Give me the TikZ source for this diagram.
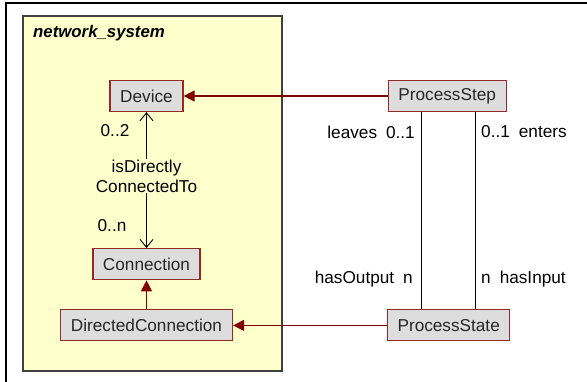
\documentclass[tikz,border=0pt]{standalone}
\usepackage{fontspec}
\setmainfont{Liberation Sans}
\usepackage{tikz}
\usetikzlibrary{arrows.meta, positioning}
\definecolor{umlpkg}{RGB}{255,255,204}
\definecolor{umlbox}{RGB}{221,221,221}
\definecolor{umlred}{RGB}{150,40,40}
\definecolor{umldark}{RGB}{128,0,0}
\definecolor{umlgray}{RGB}{64,64,64}

\begin{document}
\begin{tikzpicture}[
  x=1pt, y=-1pt,
  font=\fontsize{17.2}{20}\selectfont,
  cls/.style={rectangle, draw=umlred, fill=umlbox, line width=1.2pt, minimum height=31pt, inner sep=0pt, text=black!85},
  inherit/.style={-{Triangle[length=11pt,width=11pt]}, draw=umldark, fill=umldark, line width=1.1pt},
  assoc/.style={{Straight Barb[length=8pt,width=13pt]}-{Straight Barb[length=8pt,width=13pt]}, line width=0.9pt},
  plain/.style={line width=0.9pt},
  mult/.style={inner sep=0pt}
]
\useasboundingbox (0,0) rectangle (587,382);
\draw[line width=1.5pt] (6,382) -- (6,3) -- (587,3);

% package
\draw[fill=umlpkg, draw=umlgray, line width=1.5pt] (23,16) rectangle (282,371);
\node[anchor=west, inner sep=0pt, font=\fontsize{16.8}{19}\selectfont\bfseries\itshape] (pkgname) at (33,33) {network\_system};

\node[cls, minimum width=73pt] (device) at (146.5,96) {Device};
\node[cls, minimum width=107pt, below=136pt of device] (conn) {Connection};
\node[cls, minimum width=172pt, below=29pt of conn] (dirconn) {DirectedConnection};

\node[cls, minimum width=118pt, right=204pt of device] (step) {ProcessStep};
\node[cls, minimum width=122pt, right=154pt of dirconn] (state) {ProcessState};

% associations
\draw[assoc] (device.south) -- (conn.north)
  node[pos=0.5, fill=umlpkg, align=center, inner sep=1pt, yshift=4pt] {isDirectly\\ConnectedTo};
\node[mult] at (115,131) {0..2};
\node[mult] at (112,226) {0..n};

\draw[plain] ([xshift=-26pt]step.south) -- ([xshift=-26pt]step.south |- state.north);
\draw[plain] ([xshift=28pt]step.south) -- ([xshift=28pt]step.south |- state.north);
\node[mult, anchor=east] at (415,132) {leaves\hspace{9pt}0..1};
\node[mult, anchor=west] at (481,132) {0..1\hspace{9pt}enters};
\node[mult, anchor=east] at (413,279) {hasOutput\hspace{9pt}n};
\node[mult, anchor=west] at (481,279) {n\hspace{9pt}hasInput};

% generalizations
\draw[inherit] (step.west) -- (device.east);
\draw[inherit] (state.west) -- (dirconn.east);
\draw[inherit] (dirconn.north) -- (conn.south);

\end{tikzpicture}
\end{document}
